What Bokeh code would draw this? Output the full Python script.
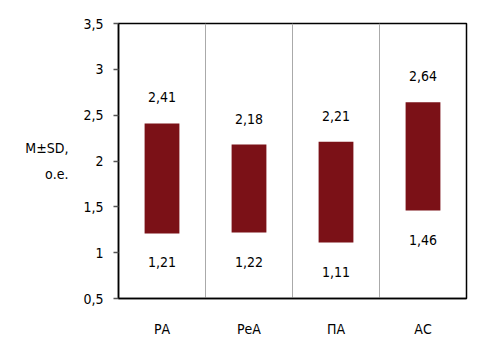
from bokeh.plotting import figure
from bokeh.models import ColumnDataSource, FixedTicker, Range1d
from bokeh.core.properties import value
from bokeh.embed import file_html
from bokeh.resources import INLINE

categories = ["РА", "РеА", "ПА", "АС"]
upper = [2.41, 2.18, 2.21, 2.64]
lower = [1.21, 1.22, 1.11, 1.46]
y_ticks = [0.5, 1, 1.5, 2, 2.5, 3, 3.5]
y_tick_labels = ["0,5", "1", "1,5", "2", "2,5", "3", "3,5"]
y_title = "M±SD,\nо.е."

FONT = "'Liberation Sans Narrow', 'DejaVu Sans Condensed', 'Arial Narrow', sans-serif"
BAR = "#7b1117"

xs = [i + 0.5 for i in range(len(categories))]
fmt = lambda v: f"{v:.2f}".replace(".", ",")
src = ColumnDataSource(dict(
    x=xs, top=upper, bottom=lower,
    top_lab=[fmt(v) for v in upper], bot_lab=[fmt(v) for v in lower],
))

p = figure(width=486, height=354, output_backend="svg", toolbar_location=None,
           x_range=Range1d(0, len(categories)), y_range=Range1d(0.5, 3.5),
           min_border_left=118, min_border_right=20, min_border_top=23,
           min_border_bottom=56)
p.background_fill_color = "white"
p.border_fill_color = "white"
p.outline_line_color = "black"
p.outline_line_width = 1.5

p.vbar(x="x", top="top", bottom="bottom", width=0.4, source=src,
       fill_color=BAR, line_color=None)

p.text(x="x", y="top", text="top_lab", source=src, y_offset=-26,
       text_align="center", text_baseline="middle",
       text_font=value(FONT), text_font_size="14px", text_color="black")
p.text(x="x", y="bottom", text="bot_lab", source=src, y_offset=29,
       text_align="center", text_baseline="middle",
       text_font=value(FONT), text_font_size="14px", text_color="black")

# axes
p.yaxis.ticker = FixedTicker(ticks=y_ticks)
p.yaxis.major_label_overrides = {t: l for t, l in zip(y_ticks, y_tick_labels)}
p.yaxis.major_tick_out = 5
p.yaxis.major_tick_in = 0
p.yaxis.minor_tick_line_color = None
p.yaxis.axis_line_width = 1.5
p.yaxis.major_tick_line_width = 1.5
p.yaxis.major_tick_line_color = "#555555"
p.yaxis.major_label_standoff = 10
p.yaxis.major_label_text_font = FONT
p.yaxis.major_label_text_font_size = "14px"
p.yaxis.major_label_text_color = "black"
p.yaxis.axis_label = y_title
p.yaxis.axis_label_orientation = "horizontal"
p.yaxis.axis_label_standoff = 12
p.yaxis.axis_label_text_font = FONT
p.yaxis.axis_label_text_font_size = "14px"
p.yaxis.axis_label_text_font_style = "normal"
p.yaxis.axis_label_text_color = "black"
p.yaxis.axis_label_text_align = "center"
p.yaxis.axis_label_text_line_height = 1.6

p.xaxis.ticker = FixedTicker(ticks=xs)
p.xaxis.major_label_overrides = {x: c for x, c in zip(xs, categories)}
p.xaxis.major_tick_line_color = None
p.xaxis.minor_tick_line_color = None
p.xaxis.axis_line_width = 1.5
p.xaxis.major_label_standoff = 16
p.xaxis.major_label_text_font = FONT
p.xaxis.major_label_text_font_size = "14px"
p.xaxis.major_label_text_color = "black"

p.ygrid.grid_line_color = None
p.xgrid.ticker = FixedTicker(ticks=list(range(1, len(categories))))
p.xgrid.grid_line_color = "#aaaaaa"
p.xgrid.grid_line_width = 1

open("out.html", "w").write(file_html(p, INLINE))
